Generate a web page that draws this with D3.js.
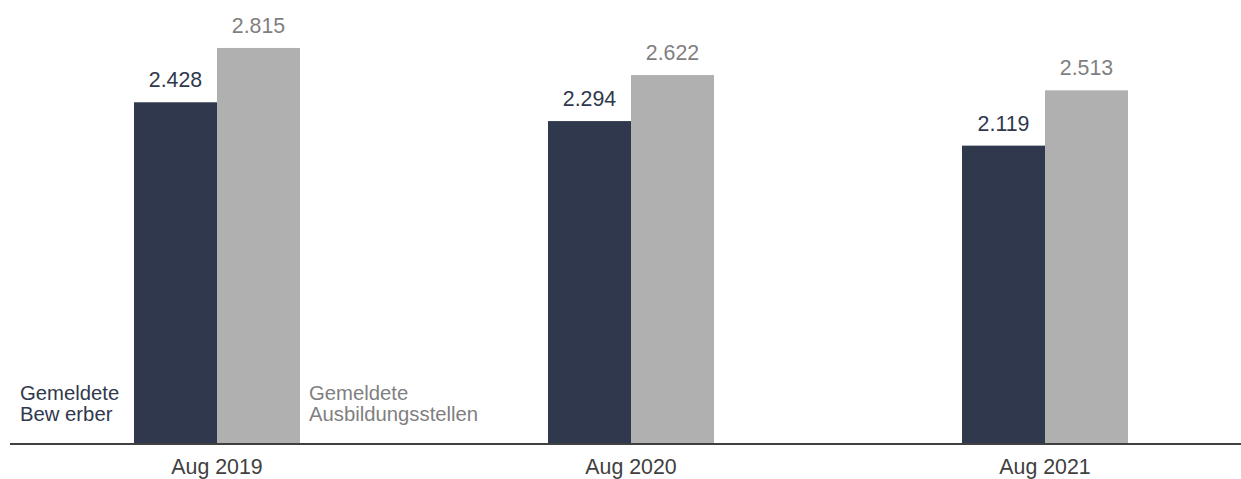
<!DOCTYPE html>
<html><head><meta charset="utf-8">
<script src="https://cdn.jsdelivr.net/npm/d3@7"></script>
<style>body{margin:0;background:#fff}svg{display:block;font-family:"Liberation Sans",Arial,sans-serif}</style>
</head><body>
<svg id="c" width="1241" height="479"></svg>
<script>
const categories = ["Aug 2019", "Aug 2020", "Aug 2021"];
const seriesNames = ["Gemeldete Bewerber", "Gemeldete Ausbildungsstellen"];
const bewerber = [2428, 2294, 2119];
const stellen = [2815, 2622, 2513];
const valueLabels = [["2.428","2.294","2.119"],["2.815","2.622","2.513"]];
const legendLines = [["Gemeldete","Bew erber"],["Gemeldete","Ausbildungsstellen"]];

const colors = ["#30384d", "#b0b0b0"];
const labelColors = ["#30384d", "#7f7f7f"];
const FS = 21.33;
const svg = d3.select("#c");
const baseY = 443;
const y = d3.scaleLinear().domain([0, 3000]).range([baseY, 22]);
const x0 = d3.scaleBand().domain(categories).range([10, 1252]).paddingInner(0.599).paddingOuter(0.2995);
const x1 = d3.scaleBand().domain([0, 1]).range([0, x0.bandwidth()]);
const series = [bewerber, stellen];

series.forEach((vals, s) => {
  svg.selectAll(null).data(vals).enter().append("rect")
    .attr("x", (d, i) => x0(categories[i]) + x1(s))
    .attr("y", d => y(d))
    .attr("width", x1.bandwidth())
    .attr("height", d => baseY - y(d))
    .attr("fill", colors[s]);
  svg.selectAll(null).data(vals).enter().append("text")
    .attr("x", (d, i) => x0(categories[i]) + x1(s) + x1.bandwidth() / 2)
    .attr("y", d => y(d) - 15)
    .attr("text-anchor", "middle")
    .attr("font-size", FS)
    .attr("fill", labelColors[s])
    .text((d, i) => valueLabels[s][i]);
});

svg.append("line").attr("x1", 10).attr("x2", 1241).attr("y1", baseY + 1).attr("y2", baseY + 1)
  .attr("stroke", "#404040").attr("stroke-width", 2);

const xAxis = d3.axisBottom(x0).tickSize(0).tickPadding(0);
const gx = svg.append("g").attr("transform", `translate(0,${baseY})`).call(xAxis);
gx.select(".domain").remove();
gx.selectAll("text").attr("font-size", FS).attr("fill", "#404040")
  .attr("font-family", "Liberation Sans, Arial, sans-serif").attr("dy", null).attr("y", 30.5);

// legend labels
const legX = [20, 309];
legendLines.forEach((lines, s) => {
  const t = svg.append("text").attr("x", legX[s]).attr("y", 400)
    .attr("font-size", 20.3).attr("fill", labelColors[s]);
  lines.forEach((ln, k) => t.append("tspan").attr("x", legX[s]).attr("dy", k ? 21 : 0).text(ln));
});
</script>
</body></html>
